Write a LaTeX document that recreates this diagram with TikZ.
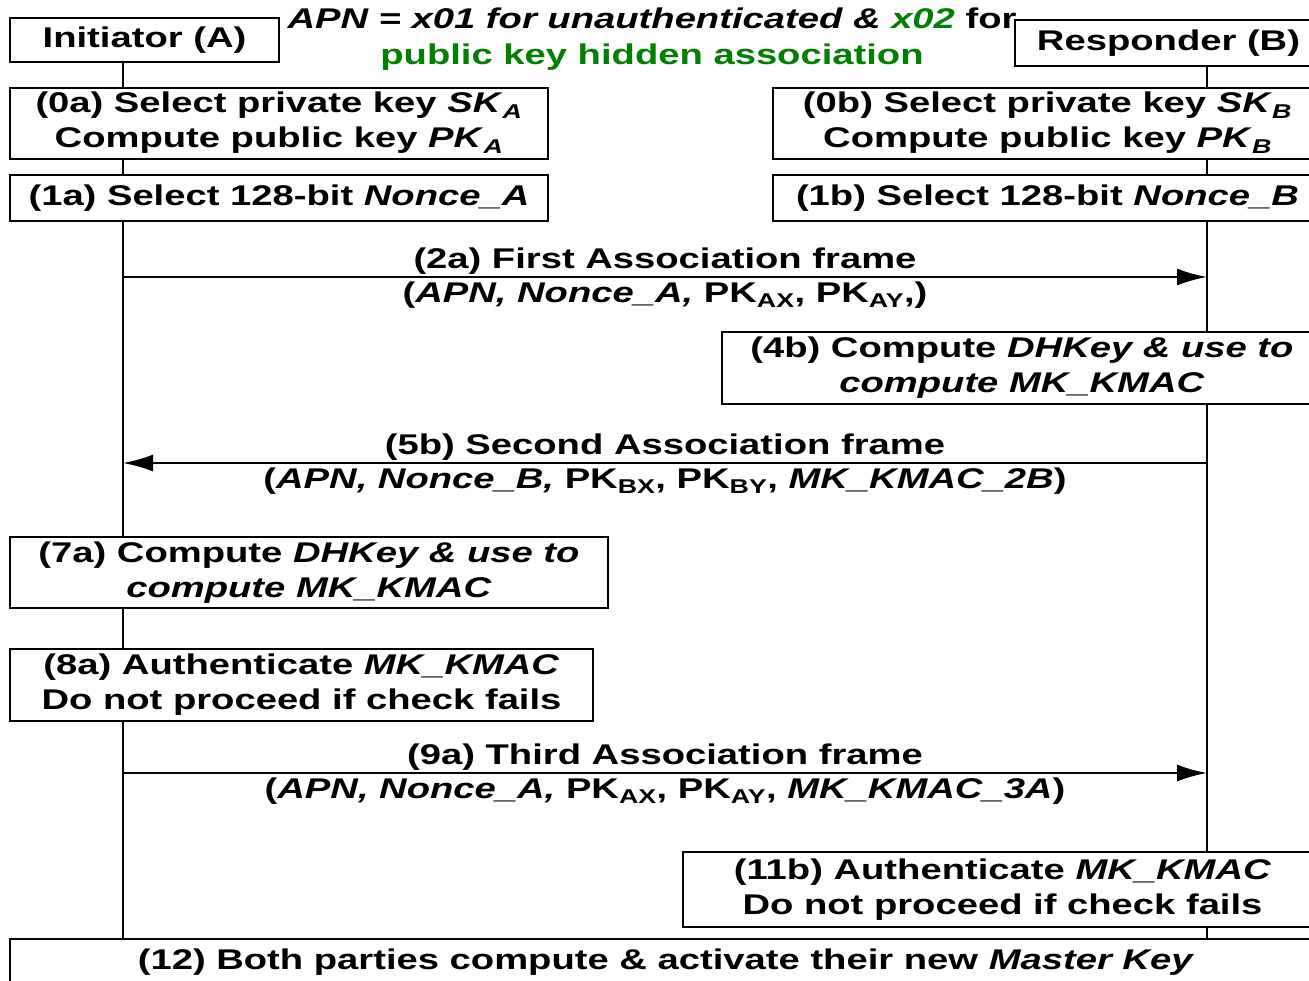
\documentclass[tikz,border=0pt]{standalone}
\usepackage{fontspec}
\setmainfont{Liberation Sans}[FakeStretch=1.34]
\usetikzlibrary{arrows.meta}
\definecolor{apngreen}{RGB}{0,128,0}

\begin{document}
\begin{tikzpicture}[x=1pt, y=-1pt, >={Latex[length=30pt,width=17pt]}, line width=2pt,
        font=\bfseries\fontsize{28.5}{35}\selectfont,
        stepbox/.style={draw, rectangle, fill=white, align=center, inner sep=0pt},
        msg/.style={midway, inner sep=2pt}]
        \clip (0,0) rectangle (1309,980);

        % Partecipanti
        \node[stepbox, minimum width=269pt, minimum height=44pt] (A) at (144.5,40) {Initiator (A)};
        \node[stepbox, minimum width=307pt, minimum height=46pt] (B) at (1168.5,43) {Responder (B)};
        \node[align=center, font=\bfseries\fontsize{28.5}{36}\selectfont] (apn) at (652,39)
            {\textit{APN = x01 for unauthenticated \& \textcolor{apngreen}{x02}} for\\
            \textcolor{apngreen}{public key hidden association}};

        % Linee di vita
        \coordinate (la) at (123,0);
        \coordinate (lb) at (1207,0);

        % Passi iniziali
        \node[stepbox, minimum width=538pt, minimum height=71pt] (s0a) at (279,123)
            {(0a) Select private key \textit{SK}\textsubscript{\textit{A}}\\Compute public key \textit{PK}\textsubscript{\textit{A}}};
        \node[stepbox, minimum width=549pt, minimum height=71pt] (s0b) at (1047.5,123)
            {(0b) Select private key \textit{SK}\textsubscript{\textit{B}}\\Compute public key \textit{PK}\textsubscript{\textit{B}}};
        \node[stepbox, minimum width=538pt, minimum height=46pt] (s1a) at (279,198)
            {(1a) Select 128-bit \textit{Nonce\_A}};
        \node[stepbox, minimum width=549pt, minimum height=46pt] (s1b) at (1047.5,198)
            {(1b) Select 128-bit \textit{Nonce\_B}};

        % Primo frame
        \coordinate (m2a) at (0,277);
        \draw[->] (la |- m2a) -- (lb |- m2a)
            node[msg, above] {(2a) First Association frame}
            node[msg, below, inner sep=4pt] {(\textit{APN, Nonce\_A,} PK\textsubscript{AX}, PK\textsubscript{AY},)};

        \node[stepbox, minimum width=600pt, minimum height=72pt] (s4b) at (1022,368)
            {(4b) Compute \textit{DHKey \& use to}\\\textit{compute MK\_KMAC}};

        % Secondo frame
        \coordinate (m5b) at (0,463);
        \draw[->] (lb |- m5b) -- (la |- m5b)
            node[msg, above] {(5b) Second Association frame}
            node[msg, below, inner sep=4pt] {(\textit{APN, Nonce\_B,} PK\textsubscript{BX}, PK\textsubscript{BY}, \textit{MK\_KMAC\_2B})};

        \node[stepbox, minimum width=598pt, minimum height=71pt] (s7a) at (309,572.5)
            {(7a) Compute \textit{DHKey \& use to}\\\textit{compute MK\_KMAC}};
        \node[stepbox, minimum width=583pt, minimum height=72pt] (s8a) at (301.5,685)
            {(8a) Authenticate \textit{MK\_KMAC}\\Do not proceed if check fails};

        % Terzo frame
        \coordinate (m9a) at (0,773);
        \draw[->] (la |- m9a) -- (lb |- m9a)
            node[msg, above] {(9a) Third Association frame}
            node[msg, below, inner sep=4pt] {(\textit{APN, Nonce\_A,} PK\textsubscript{AX}, PK\textsubscript{AY}, \textit{MK\_KMAC\_3A})};

        \node[stepbox, minimum width=639pt, minimum height=75pt] (s11b) at (1002.5,889.5)
            {(11b) Authenticate \textit{MK\_KMAC}\\Do not proceed if check fails};
        \node[stepbox, minimum width=1312pt, minimum height=47pt] (s12) at (666,962.5)
            {(12) Both parties compute \& activate their new \textit{Master Key}};

        % Tratti delle linee di vita tra i blocchi
        \foreach \u/\v in {A/s0a, s0a/s1a, s1a/s7a, s7a/s8a, s8a/s12}
            \draw (la |- \u.south) -- (la |- \v.north);
        \foreach \u/\v in {B/s0b, s0b/s1b, s1b/s4b, s4b/s11b, s11b/s12}
            \draw (lb |- \u.south) -- (lb |- \v.north);
    \end{tikzpicture}
\end{document}
